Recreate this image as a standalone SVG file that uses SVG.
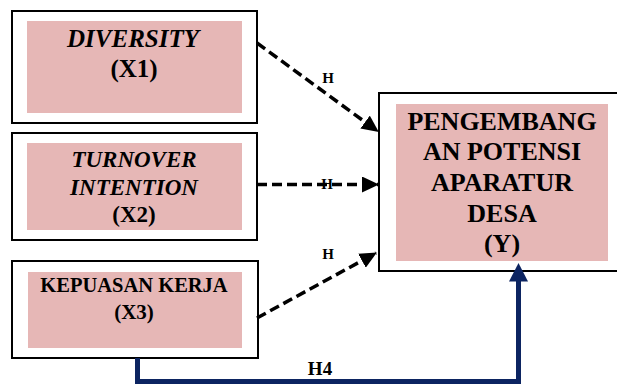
<svg xmlns="http://www.w3.org/2000/svg" width="617" height="385" viewBox="0 0 617 385">
<style>
.frame{fill:#ffffff;stroke:#000000;stroke-width:2}
.pink{fill:#e6b7b6}
.t{font-family:"Liberation Serif","Times New Roman",serif;font-weight:bold;fill:#000000;text-anchor:middle}
.i{font-style:italic}
.dash{fill:none;stroke:#000000;stroke-width:3.5;stroke-dasharray:10,5}
.lbl{font-family:"Liberation Serif","Times New Roman",serif;font-weight:bold;fill:#000000;text-anchor:middle}
</style>
<defs>
<marker id="ah" markerUnits="userSpaceOnUse" markerWidth="18" markerHeight="16" refX="16" refY="8" orient="auto">
<path d="M0,0 L17,8 L0,16 Z" fill="#000000"/>
</marker>
</defs>
<rect width="617" height="385" fill="#ffffff"/>
<g id="x1">
<rect class="frame" x="12" y="11" width="245" height="112"/>
<rect class="pink" x="27" y="21" width="215" height="92"/>
<text class="t i" x="133" y="47" font-size="25">DIVERSITY</text>
<text class="t" x="134" y="77" font-size="25">(X1)</text>
</g>
<g id="x2">
<rect class="frame" x="12" y="133" width="245" height="107"/>
<rect class="pink" x="27" y="143" width="215" height="87"/>
<text class="t i" x="134" y="167" font-size="23">TURNOVER</text>
<text class="t i" x="134" y="195" font-size="23">INTENTION</text>
<text class="t" x="134" y="222" font-size="23">(X2)</text>
</g>
<g id="x3">
<rect class="frame" x="12" y="261" width="246" height="97"/>
<rect class="pink" x="28" y="272" width="214" height="76"/>
<text class="t" x="134" y="292" font-size="20.5">KEPUASAN KERJA</text>
<text class="t" x="134" y="319" font-size="21">(X3)</text>
</g>
<g id="y">
<rect class="frame" x="379" y="93" width="250" height="178"/>
<rect class="pink" x="396" y="104" width="212" height="157"/>
<text class="t" x="502" y="129.5" font-size="26">PENGEMBANG</text>
<text class="t" x="502" y="160" font-size="26">AN POTENSI</text>
<text class="t" x="502" y="191" font-size="26">APARATUR</text>
<text class="t" x="502" y="222" font-size="26">DESA</text>
<text class="t" x="502" y="252" font-size="26">(Y)</text>
</g>
<g id="labels">
<text class="lbl" x="328" y="83" font-size="15">H</text>
<text class="lbl" x="327" y="189" font-size="15">H</text>
<text class="lbl" x="328" y="259" font-size="15">H</text>
<text class="lbl" x="320" y="375" font-size="19">H4</text>
</g>
<g id="connectors">
<line class="dash" x1="257" y1="43" x2="378" y2="131.5" marker-end="url(#ah)"/>
<line class="dash" x1="257" y1="184.5" x2="378" y2="184.5" marker-end="url(#ah)"/>
<line class="dash" x1="257" y1="318" x2="376" y2="253" marker-end="url(#ah)"/>
<path d="M137.5,358 V381.5 H518.5 V280" fill="none" stroke="#0c2461" stroke-width="5"/>
<polygon points="509,281.5 528,281.5 518.5,263" fill="#0c2461"/>
</g>
</svg>
